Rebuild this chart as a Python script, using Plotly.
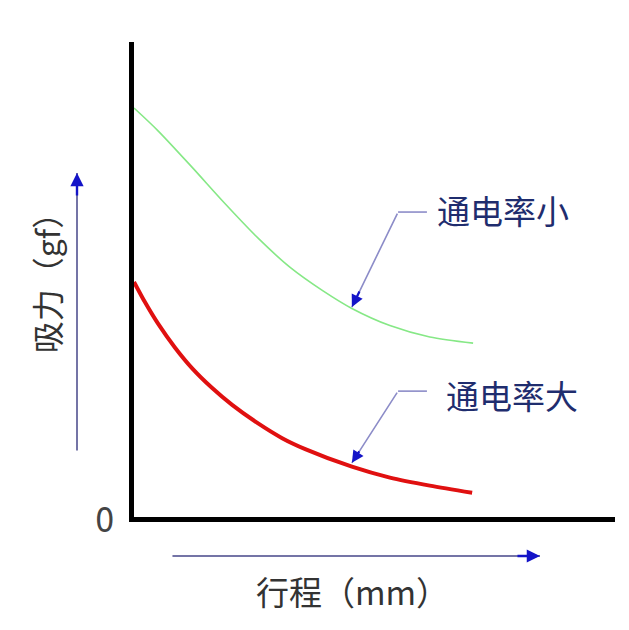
import plotly.graph_objects as go

# Curve data (arbitrary units: x = stroke, y = attraction force)
green_x = [0, 5.0, 12.1, 18.9, 25.8, 32.4, 39.3, 45.3, 53.2, 61.5, 70.5]
green_y = [86.1, 81.3, 73.6, 66.0, 58.7, 52.6, 47.6, 43.9, 40.3, 37.9, 36.6]
red_x = [0, 2.3, 5.0, 8.5, 12.1, 16.2, 20.4, 25.8, 30.8, 35.6, 45.3, 53.2, 61.5, 70.3]
red_y = [49.5, 45.2, 40.7, 35.7, 31.3, 27.2, 23.6, 19.7, 16.6, 14.3, 10.6, 8.3, 6.6, 5.1]

label_small = "通电率小"
label_large = "通电率大"
y_title = "吸力（gf）"
x_title = "行程（mm）"
zero_label = "0"

CJK = "Noto Sans CJK SC"
NAVY = "#1f2d6e"
LEAD = "#8c8cc8"
HEAD = "#1414c8"
SLATE = "#7474a6"

fig = go.Figure()
fig.add_trace(go.Scatter(x=green_x, y=green_y, mode="lines",
                         line=dict(color="#86e886", width=1.6, shape="spline", smoothing=0.8),
                         hoverinfo="skip"))
fig.add_trace(go.Scatter(x=red_x, y=red_y, mode="lines",
                         line=dict(color="#e01010", width=4, shape="spline", smoothing=0.8),
                         hoverinfo="skip"))

shapes = []
annotations = []

def leader(tip, elbow, end):
    shapes.append(dict(type="line", xref="x", yref="y", x0=elbow[0], y0=elbow[1],
                       x1=end[0], y1=end[1], line=dict(color=LEAD, width=1.6)))
    annotations.append(dict(x=tip[0], y=tip[1], ax=elbow[0], ay=elbow[1],
                            xref="x", yref="y", axref="x", ayref="y", text="",
                            showarrow=True, arrowhead=0, arrowwidth=1.6,
                            arrowcolor=LEAD))
    dx = elbow[0] - tip[0]
    dy = elbow[1] - tip[1]
    annotations.append(dict(x=tip[0], y=tip[1], ax=tip[0] + dx * 0.18,
                            ay=tip[1] + dy * 0.18,
                            xref="x", yref="y", axref="x", ayref="y", text="",
                            showarrow=True, arrowhead=2, arrowsize=1.1,
                            arrowwidth=2.2, arrowcolor=HEAD))

leader((45.3, 44.2), (54.9, 64.2), (60.9, 64.2))
leader((45.3, 11.4), (54.9, 26.5), (60.9, 26.5))

def text_note(x, y, txt, size, color, family=CJK, angle=0):
    annotations.append(dict(x=x, y=y, xref="paper", yref="paper", text=txt,
                            showarrow=False, xanchor="center", yanchor="middle",
                            textangle=angle,
                            font=dict(family=family, size=size, color=color)))

text_note(0.767, 0.646, label_small, 33, NAVY)
text_note(0.786, 0.257, label_large, 33, NAVY)

# Blue axis direction arrows
annotations.append(dict(x=-0.1185, y=0.724, xref="paper", yref="paper",
                        ax=0, ay=279, text="", showarrow=True, arrowhead=0,
                        arrowwidth=2, arrowcolor=SLATE))
annotations.append(dict(x=-0.1185, y=0.724, xref="paper", yref="paper",
                        ax=0, ay=24, text="", showarrow=True, arrowhead=2,
                        arrowsize=1.1, arrowwidth=2.4, arrowcolor=HEAD))
annotations.append(dict(x=0.844, y=-0.0821, xref="paper", yref="paper",
                        ax=-369, ay=0, text="", showarrow=True, arrowhead=0,
                        arrowwidth=2, arrowcolor=SLATE))
annotations.append(dict(x=0.844, y=-0.0821, xref="paper", yref="paper",
                        ax=-24, ay=0, text="", showarrow=True, arrowhead=2,
                        arrowsize=1.1, arrowwidth=2.4, arrowcolor=HEAD))

text_note(-0.183, 0.509, y_title, 32, "#333333", angle=-90)
text_note(0.455, -0.156, x_title, 33, "#333333")
text_note(-0.062, -0.006, zero_label, 34, "#444444",
          family="Liberation Sans Narrow, DejaVu Sans Condensed")

fig.update_layout(
    width=621, height=622,
    margin=dict(l=126, r=14, t=34, b=113),
    paper_bgcolor="white", plot_bgcolor="white",
    showlegend=False,
    shapes=shapes, annotations=annotations,
    xaxis=dict(range=[0, 100], showgrid=False, zeroline=False, showticklabels=False,
               ticks="", showline=True, linewidth=5, linecolor="black", fixedrange=True),
    yaxis=dict(range=[0, 100], showgrid=False, zeroline=False, showticklabels=False,
               ticks="", showline=True, linewidth=5, linecolor="black", fixedrange=True),
)

fig.write_html("out.html", config={"displayModeBar": False})
